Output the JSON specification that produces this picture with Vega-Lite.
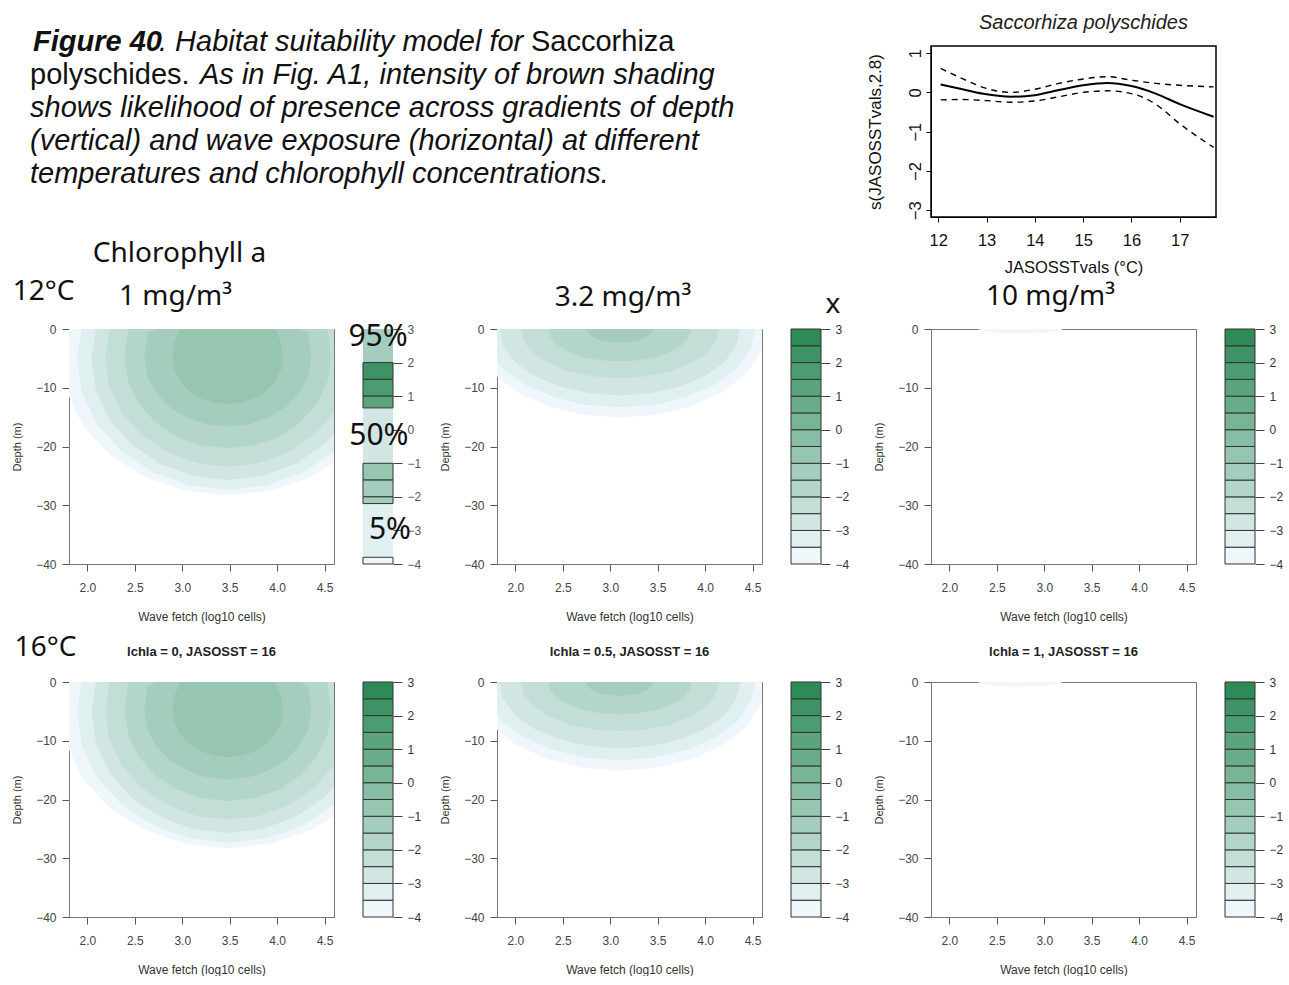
{
"$schema": "https://vega.github.io/schema/vega-lite/v6.json",
"background": "white",
"padding": {"left": 11, "top": 12, "right": 0, "bottom": 0},
"autosize": {"type": "pad"},
"config": {
  "font": "Liberation Sans",
  "view": {"stroke": "#777"},
  "axis": {"grid": false, "labelFont": "Liberation Sans", "titleFont": "Liberation Sans", "labelFlush": false, "labelOverlap": false},
  "title": {"font": "Liberation Sans"}
},
"datasets": {
  "c1": [
    {"l":0,"x":1.73,"lo":-5,"hi":-5},{"l":0,"x":1.79,"lo":-11,"hi":0},{"l":0,"x":1.96,"lo":-16.7,"hi":0},{"l":0,"x":2.24,"lo":-21.5,"hi":0},{"l":0,"x":2.61,"lo":-25.2,"hi":0},{"l":0,"x":3.03,"lo":-27.5,"hi":0},{"l":0,"x":3.48,"lo":-28.3,"hi":0},{"l":0,"x":3.93,"lo":-27.5,"hi":0},{"l":0,"x":4.36,"lo":-25.2,"hi":0},{"l":0,"x":4.72,"lo":-21.5,"hi":0},{"l":0,"x":5.0,"lo":-16.7,"hi":0},{"l":0,"x":5.17,"lo":-11,"hi":0},{"l":0,"x":5.23,"lo":-5,"hi":-5},
    {"l":1,"x":1.89,"lo":-5,"hi":-5},{"l":1,"x":1.94,"lo":-10.8,"hi":0},{"l":1,"x":2.1,"lo":-16.2,"hi":0},{"l":1,"x":2.36,"lo":-20.8,"hi":0},{"l":1,"x":2.69,"lo":-24.4,"hi":0},{"l":1,"x":3.07,"lo":-26.6,"hi":0},{"l":1,"x":3.48,"lo":-27.4,"hi":0},{"l":1,"x":3.89,"lo":-26.6,"hi":0},{"l":1,"x":4.28,"lo":-24.4,"hi":0},{"l":1,"x":4.6,"lo":-20.8,"hi":0},{"l":1,"x":4.86,"lo":-16.2,"hi":0},{"l":1,"x":5.02,"lo":-10.8,"hi":0},{"l":1,"x":5.07,"lo":-5,"hi":-5},
    {"l":2,"x":2.04,"lo":-5,"hi":-5},{"l":2,"x":2.09,"lo":-10.4,"hi":0},{"l":2,"x":2.23,"lo":-15.4,"hi":0},{"l":2,"x":2.46,"lo":-19.6,"hi":0},{"l":2,"x":2.76,"lo":-22.9,"hi":0},{"l":2,"x":3.11,"lo":-25,"hi":0},{"l":2,"x":3.48,"lo":-25.7,"hi":0},{"l":2,"x":3.85,"lo":-25,"hi":0},{"l":2,"x":4.2,"lo":-22.9,"hi":0},{"l":2,"x":4.5,"lo":-19.6,"hi":0},{"l":2,"x":4.73,"lo":-15.4,"hi":0},{"l":2,"x":4.87,"lo":-10.4,"hi":0},{"l":2,"x":4.92,"lo":-5,"hi":-5},
    {"l":3,"x":2.19,"lo":-5,"hi":-5},{"l":3,"x":2.23,"lo":-9.8,"hi":0},{"l":3,"x":2.36,"lo":-14.2,"hi":0},{"l":3,"x":2.57,"lo":-18,"hi":0},{"l":3,"x":2.84,"lo":-20.9,"hi":0},{"l":3,"x":3.15,"lo":-22.8,"hi":0},{"l":3,"x":3.48,"lo":-23.4,"hi":0},{"l":3,"x":3.81,"lo":-22.8,"hi":0},{"l":3,"x":4.13,"lo":-20.9,"hi":0},{"l":3,"x":4.39,"lo":-18,"hi":0},{"l":3,"x":4.6,"lo":-14.2,"hi":0},{"l":3,"x":4.73,"lo":-9.8,"hi":0},{"l":3,"x":4.77,"lo":-5,"hi":-5},
    {"l":4,"x":2.39,"lo":-5,"hi":-5},{"l":4,"x":2.43,"lo":-9,"hi":0},{"l":4,"x":2.54,"lo":-12.7,"hi":0},{"l":4,"x":2.71,"lo":-15.8,"hi":0},{"l":4,"x":2.94,"lo":-18.3,"hi":0},{"l":4,"x":3.2,"lo":-19.8,"hi":0},{"l":4,"x":3.48,"lo":-20.3,"hi":0},{"l":4,"x":3.76,"lo":-19.8,"hi":0},{"l":4,"x":4.03,"lo":-18.3,"hi":0},{"l":4,"x":4.25,"lo":-15.8,"hi":0},{"l":4,"x":4.42,"lo":-12.7,"hi":0},{"l":4,"x":4.53,"lo":-9,"hi":0},{"l":4,"x":4.57,"lo":-5,"hi":-5},
    {"l":5,"x":2.6,"lo":-5,"hi":-5},{"l":5,"x":2.63,"lo":-8,"hi":-0.8},{"l":5,"x":2.72,"lo":-10.8,"hi":0},{"l":5,"x":2.86,"lo":-13.2,"hi":0},{"l":5,"x":3.04,"lo":-15,"hi":0},{"l":5,"x":3.25,"lo":-16.2,"hi":0},{"l":5,"x":3.48,"lo":-16.6,"hi":0},{"l":5,"x":3.71,"lo":-16.2,"hi":0},{"l":5,"x":3.92,"lo":-15,"hi":0},{"l":5,"x":4.1,"lo":-13.2,"hi":0},{"l":5,"x":4.24,"lo":-10.8,"hi":0},{"l":5,"x":4.33,"lo":-8,"hi":-0.8},{"l":5,"x":4.36,"lo":-5,"hi":-5},
    {"l":6,"x":2.9,"lo":-5,"hi":-5},{"l":6,"x":2.92,"lo":-7,"hi":-2.2},{"l":6,"x":2.98,"lo":-8.9,"hi":0},{"l":6,"x":3.07,"lo":-10.5,"hi":0},{"l":6,"x":3.19,"lo":-11.8,"hi":0},{"l":6,"x":3.33,"lo":-12.5,"hi":0},{"l":6,"x":3.48,"lo":-12.8,"hi":0},{"l":6,"x":3.63,"lo":-12.5,"hi":0},{"l":6,"x":3.77,"lo":-11.8,"hi":0},{"l":6,"x":3.89,"lo":-10.5,"hi":0},{"l":6,"x":3.98,"lo":-8.9,"hi":0},{"l":6,"x":4.04,"lo":-7,"hi":-2.2},{"l":6,"x":4.06,"lo":-5,"hi":-5}
  ],
  "c2": [
    {"l":0,"x":1.56,"lo":0,"hi":0},{"l":0,"x":1.61,"lo":-3.9,"hi":0},{"l":0,"x":1.77,"lo":-7.6,"hi":0},{"l":0,"x":2.01,"lo":-10.7,"hi":0},{"l":0,"x":2.33,"lo":-13.1,"hi":0},{"l":0,"x":2.7,"lo":-14.6,"hi":0},{"l":0,"x":3.1,"lo":-15.1,"hi":0},{"l":0,"x":3.5,"lo":-14.6,"hi":0},{"l":0,"x":3.87,"lo":-13.1,"hi":0},{"l":0,"x":4.19,"lo":-10.7,"hi":0},{"l":0,"x":4.43,"lo":-7.6,"hi":0},{"l":0,"x":4.59,"lo":-3.9,"hi":0},{"l":0,"x":4.64,"lo":0,"hi":0},
    {"l":1,"x":1.67,"lo":0,"hi":0},{"l":1,"x":1.72,"lo":-3.4,"hi":0},{"l":1,"x":1.86,"lo":-6.7,"hi":0},{"l":1,"x":2.09,"lo":-9.4,"hi":0},{"l":1,"x":2.39,"lo":-11.5,"hi":0},{"l":1,"x":2.73,"lo":-12.9,"hi":0},{"l":1,"x":3.1,"lo":-13.3,"hi":0},{"l":1,"x":3.47,"lo":-12.9,"hi":0},{"l":1,"x":3.82,"lo":-11.5,"hi":0},{"l":1,"x":4.11,"lo":-9.4,"hi":0},{"l":1,"x":4.34,"lo":-6.7,"hi":0},{"l":1,"x":4.48,"lo":-3.4,"hi":0},{"l":1,"x":4.53,"lo":0,"hi":0},
    {"l":2,"x":1.83,"lo":0,"hi":0},{"l":2,"x":1.87,"lo":-2.9,"hi":0},{"l":2,"x":2.0,"lo":-5.7,"hi":0},{"l":2,"x":2.2,"lo":-8,"hi":0},{"l":2,"x":2.47,"lo":-9.8,"hi":0},{"l":2,"x":2.77,"lo":-10.9,"hi":0},{"l":2,"x":3.1,"lo":-11.3,"hi":0},{"l":2,"x":3.43,"lo":-10.9,"hi":0},{"l":2,"x":3.74,"lo":-9.8,"hi":0},{"l":2,"x":4.0,"lo":-8,"hi":0},{"l":2,"x":4.2,"lo":-5.7,"hi":0},{"l":2,"x":4.33,"lo":-2.9,"hi":0},{"l":2,"x":4.37,"lo":0,"hi":0},
    {"l":3,"x":2.06,"lo":0,"hi":0},{"l":3,"x":2.09,"lo":-2.2,"hi":0},{"l":3,"x":2.2,"lo":-4.2,"hi":0},{"l":3,"x":2.36,"lo":-5.9,"hi":0},{"l":3,"x":2.58,"lo":-7.3,"hi":0},{"l":3,"x":2.83,"lo":-8.1,"hi":0},{"l":3,"x":3.1,"lo":-8.4,"hi":0},{"l":3,"x":3.37,"lo":-8.1,"hi":0},{"l":3,"x":3.62,"lo":-7.3,"hi":0},{"l":3,"x":3.84,"lo":-5.9,"hi":0},{"l":3,"x":4.01,"lo":-4.2,"hi":0},{"l":3,"x":4.11,"lo":-2.2,"hi":0},{"l":3,"x":4.15,"lo":0,"hi":0},
    {"l":4,"x":2.35,"lo":0,"hi":0},{"l":4,"x":2.37,"lo":-1.4,"hi":0},{"l":4,"x":2.45,"lo":-2.8,"hi":0},{"l":4,"x":2.57,"lo":-3.9,"hi":0},{"l":4,"x":2.72,"lo":-4.8,"hi":0},{"l":4,"x":2.9,"lo":-5.3,"hi":0},{"l":4,"x":3.1,"lo":-5.5,"hi":0},{"l":4,"x":3.3,"lo":-5.3,"hi":0},{"l":4,"x":3.48,"lo":-4.8,"hi":0},{"l":4,"x":3.63,"lo":-3.9,"hi":0},{"l":4,"x":3.75,"lo":-2.8,"hi":0},{"l":4,"x":3.83,"lo":-1.4,"hi":0},{"l":4,"x":3.86,"lo":0,"hi":0},
    {"l":5,"x":2.74,"lo":0,"hi":0},{"l":5,"x":2.79,"lo":-1.2,"hi":0},{"l":5,"x":2.92,"lo":-2.1,"hi":0},{"l":5,"x":3.1,"lo":-2.4,"hi":0},{"l":5,"x":3.28,"lo":-2.1,"hi":0},{"l":5,"x":3.41,"lo":-1.2,"hi":0},{"l":5,"x":3.46,"lo":0,"hi":0}
  ],
  "c3": [
    {"l":0,"x":2.3,"lo":0,"hi":0},{"l":0,"x":2.36,"lo":-0.4,"hi":0},{"l":0,"x":2.53,"lo":-0.7,"hi":0},{"l":0,"x":2.75,"lo":-0.8,"hi":0},{"l":0,"x":2.98,"lo":-0.7,"hi":0},{"l":0,"x":3.14,"lo":-0.4,"hi":0},{"l":0,"x":3.2,"lo":0,"hi":0}
  ],
  "leg": [
    {"v0":-4,"v1":-3.5,"l":0},{"v0":-3.5,"v1":-3,"l":1},{"v0":-3,"v1":-2.5,"l":2},{"v0":-2.5,"v1":-2,"l":3},{"v0":-2,"v1":-1.5,"l":4},{"v0":-1.5,"v1":-1,"l":5},{"v0":-1,"v1":-0.5,"l":6},{"v0":-0.5,"v1":0,"l":7},{"v0":0,"v1":0.5,"l":8},{"v0":0.5,"v1":1,"l":9},{"v0":1,"v1":1.5,"l":10},{"v0":1.5,"v1":2,"l":11},{"v0":2,"v1":2.5,"l":12},{"v0":2.5,"v1":3,"l":13}
  ],
  "leg1": [
    {"v0":2.0,"v1":3.0,"l":5,"k":"p"},{"v0":-1.0,"v1":0.65,"l":2,"k":"p"},{"v0":-3.8,"v1":-2.2,"l":1,"k":"p"},
    {"v0":1.5,"v1":2.0,"l":12,"k":"d"},{"v0":1.0,"v1":1.5,"l":11,"k":"d"},{"v0":0.65,"v1":1.0,"l":10,"k":"d"},
    {"v0":-1.5,"v1":-1.0,"l":6,"k":"d"},{"v0":-2.0,"v1":-1.5,"l":5,"k":"d"},{"v0":-2.2,"v1":-2.0,"l":5,"k":"d"},
    {"v0":-4.0,"v1":-3.8,"l":0,"k":"d"}
  ],
  "gam": [
    {"t":12.05,"s":0.2,"series":"fit"},{"t":12.5,"s":0.08,"series":"fit"},{"t":13,"s":-0.05,"series":"fit"},{"t":13.5,"s":-0.11,"series":"fit"},{"t":14,"s":-0.07,"series":"fit"},{"t":14.5,"s":0.06,"series":"fit"},{"t":15,"s":0.18,"series":"fit"},{"t":15.5,"s":0.24,"series":"fit"},{"t":16,"s":0.16,"series":"fit"},{"t":16.5,"s":-0.03,"series":"fit"},{"t":17,"s":-0.3,"series":"fit"},{"t":17.7,"s":-0.62,"series":"fit"},
    {"t":12.05,"s":0.61,"series":"upper"},{"t":12.5,"s":0.35,"series":"upper"},{"t":13,"s":0.1,"series":"upper"},{"t":13.5,"s":0.0,"series":"upper"},{"t":14,"s":0.08,"series":"upper"},{"t":14.5,"s":0.23,"series":"upper"},{"t":15,"s":0.34,"series":"upper"},{"t":15.5,"s":0.4,"series":"upper"},{"t":16,"s":0.31,"series":"upper"},{"t":16.5,"s":0.23,"series":"upper"},{"t":17,"s":0.18,"series":"upper"},{"t":17.7,"s":0.14,"series":"upper"},
    {"t":12.05,"s":-0.19,"series":"lower"},{"t":12.5,"s":-0.18,"series":"lower"},{"t":13,"s":-0.21,"series":"lower"},{"t":13.5,"s":-0.25,"series":"lower"},{"t":14,"s":-0.22,"series":"lower"},{"t":14.5,"s":-0.11,"series":"lower"},{"t":15,"s":0.0,"series":"lower"},{"t":15.5,"s":0.04,"series":"lower"},{"t":16,"s":-0.03,"series":"lower"},{"t":16.5,"s":-0.3,"series":"lower"},{"t":17,"s":-0.8,"series":"lower"},{"t":17.7,"s":-1.4,"series":"lower"}
  ],
  "cap": [
    {"x":33,"y":51,"t":"Figure 40","s":"bi"},
    {"x":159,"y":51,"t":". Habitat suitability model for","s":"i"},
    {"x":531,"y":51,"t":"Saccorhiza","s":"r"},
    {"x":30,"y":84,"t":"polyschides.","s":"r"},
    {"x":200,"y":84,"t":"As in Fig. A1, intensity of brown shading","s":"i"},
    {"x":30,"y":117,"t":"shows likelihood of presence across gradients of depth","s":"i"},
    {"x":30,"y":150,"t":"(vertical) and wave exposure (horizontal) at different","s":"i"},
    {"x":30,"y":183,"t":"temperatures and chlorophyll concentrations.","s":"i"}
  ]
},
"columns": 11,
"align": "each",
"spacing": {"row": 112, "column": 0},
"bounds": "flush",
"concat": [
  {"width": 265, "height": 171, "view": {"stroke": null},
   "data": {"name": "cap"},
   "encoding": {
     "x": {"field": "x", "type": "quantitative", "scale": {"domain": [69, 334], "nice": false, "zero": false}, "axis": null},
     "y": {"field": "y", "type": "quantitative", "scale": {"domain": [46, 217], "nice": false, "zero": false, "reverse": true}, "axis": null},
     "text": {"field": "t"}
   },
   "layer": [
     {"transform": [{"filter": "datum.s === 'bi'"}], "mark": {"type": "text", "align": "left", "baseline": "alphabetic", "fontSize": 29, "fontStyle": "italic", "fontWeight": "bold", "color": "#111"}},
     {"transform": [{"filter": "datum.s === 'i'"}], "mark": {"type": "text", "align": "left", "baseline": "alphabetic", "fontSize": 29, "fontStyle": "italic", "fontWeight": "normal", "color": "#111"}},
     {"transform": [{"filter": "datum.s === 'r'"}], "mark": {"type": "text", "align": "left", "baseline": "alphabetic", "fontSize": 29, "fontStyle": "normal", "fontWeight": "normal", "color": "#111"}}
   ]
  },
  {"width": 1, "height": 1, "view": {"stroke": null}, "data": {"values": []}, "mark": "point"},
  {"width": 1, "height": 1, "view": {"stroke": null}, "data": {"values": []}, "mark": "point"},
  {"width": 1, "height": 1, "view": {"stroke": null}, "data": {"values": []}, "mark": "point"},
  {"width": 1, "height": 1, "view": {"stroke": null}, "data": {"values": []}, "mark": "point"},
  {"width": 1, "height": 1, "view": {"stroke": null}, "data": {"values": []}, "mark": "point"},
  {"width": 1, "height": 1, "view": {"stroke": null}, "data": {"values": []}, "mark": "point"},
  {"width": 1, "height": 1, "view": {"stroke": null}, "data": {"values": []}, "mark": "point"},
  {"width": 285, "height": 171,
   "view": {"stroke": "black", "strokeWidth": 1.5},
   "title": {"text": "Saccorhiza polyschides", "fontStyle": "italic", "fontWeight": "normal", "fontSize": 20, "color": "#222", "offset": 13, "dx": 10},
   "data": {"name": "gam"},
   "encoding": {
     "x": {"field": "t", "type": "quantitative", "scale": {"domain": [11.85, 17.75], "nice": false, "zero": false},
           "axis": {"title": "JASOSSTvals (°C)", "values": [12,13,14,15,16,17], "tickSize": 5, "tickColor": "black", "domainColor": "black", "labelColor": "#111", "labelFontSize": 16.5, "labelPadding": 10, "titleFontSize": 16.5, "titleFontWeight": "normal", "titleColor": "#111", "titlePadding": 11}},
     "y": {"field": "s", "type": "quantitative", "scale": {"domain": [-3.17, 1.18], "nice": false, "zero": false},
           "axis": {"title": "s(JASOSSTvals,2.8)", "values": [-3,-2,-1,0,1], "labelAngle": -90, "labelAlign": "center", "labelBaseline": "bottom", "tickSize": 5, "tickColor": "black", "domainColor": "black", "labelColor": "#111", "labelFontSize": 16.5, "labelPadding": 3, "titleFontSize": 17, "titleFontWeight": "normal", "titleColor": "#111", "titlePadding": 23}}
   },
   "layer": [
     {"transform": [{"filter": "datum.series === 'fit'"}], "mark": {"type": "line", "color": "black", "strokeWidth": 2, "interpolate": "monotone"}},
     {"transform": [{"filter": "datum.series !== 'fit'"}], "mark": {"type": "line", "color": "black", "strokeWidth": 1.4, "strokeDash": [6, 5], "interpolate": "monotone"}, "encoding": {"detail": {"field": "series"}}}
   ]
  },
  {"width": 1, "height": 1, "view": {"stroke": null}, "data": {"values": []}, "mark": "point"},
  {"width": 1, "height": 1, "view": {"stroke": null}, "data": {"values": []}, "mark": "point"},

  {"width": 265, "height": 235,
   "layer": [
     {"data": {"name": "c1"}, "mark": {"type": "area", "clip": true},
      "encoding": {
        "x": {"field": "x", "type": "quantitative", "scale": {"domain": [1.806, 4.6], "nice": false, "zero": false},
              "axis": {"title": "Wave fetch (log10 cells)", "values": [2,2.5,3,3.5,4,4.5], "format": ".1f", "tickSize": 7, "tickColor": "#555", "domainColor": "#777", "labelFontSize": 12, "labelColor": "#444", "labelPadding": 11, "titleFontSize": 12, "titleFontWeight": "normal", "titleColor": "#333", "titlePadding": 18}},
        "y": {"field": "lo", "type": "quantitative", "stack": null, "scale": {"domain": [-40, 0], "nice": false, "zero": false},
              "axis": {"title": "Depth (m)", "values": [0,-10,-20,-30,-40], "tickSize": 7, "tickColor": "#555", "domainColor": "#777", "labelFontSize": 12, "labelColor": "#444", "labelPadding": 6, "titleFontSize": 11, "titleFontWeight": "normal", "titleColor": "#333", "titlePadding": 13}},
        "y2": {"field": "hi"},
        "color": {"field": "l", "type": "ordinal", "legend": null, "scale": {"domain": [0,1,2,3,4,5,6,7,8,9,10,11,12,13], "range": ["#eff7fd","#e0eff0","#d1e6e3","#c2ded7","#b4d6ca","#a5cdbd","#96c5b0","#87bda4","#78b597","#69ac8a","#5ba47d","#4c9c71","#3d9364","#2e8b57"]}}
      }},
     {"data": {"values": [{"x": 1.537, "y": 6.3, "t": "12°C"}, {"x": 2.929, "y": 5.45, "t": "1 mg/m³"}, {"x": 2.971, "y": 12.8, "t": "Chlorophyll a"}, {"x": 1.558, "y": -54.3, "t": "16°C"}]},
      "mark": {"type": "text", "font": "Noto Sans", "fontSize": 28, "baseline": "middle", "color": "#111"},
      "encoding": {"x": {"field": "x", "type": "quantitative", "scale": {"domain": [1.806, 4.6], "nice": false, "zero": false}},
                   "y": {"field": "y", "type": "quantitative", "scale": {"domain": [-40, 0], "nice": false, "zero": false}},
                   "text": {"field": "t"}}}
   ]},
  {"width": 29, "height": 241, "view": {"stroke": null}, "data": {"values": []}, "mark": "point"},
  {"width": 30, "height": 235, "view": {"stroke": null},
   "data": {"name": "leg1"},
   "encoding": {
     "y": {"field": "v0", "type": "quantitative", "scale": {"domain": [-4, 3], "nice": false, "zero": false},
           "axis": {"orient": "right", "title": null, "values": [-4,-3,-2,-1,0,1,2,3], "domain": false, "tickSize": 9, "tickColor": "#444", "labelFontSize": 12, "labelColor": "#555", "labelPadding": 5}},
     "y2": {"field": "v1"},
     "color": {"field": "l", "type": "ordinal", "legend": null, "scale": {"domain": [0,1,2,3,4,5,6,7,8,9,10,11,12,13], "range": ["#eff7fd","#e0eff0","#d1e6e3","#c2ded7","#b4d6ca","#a5cdbd","#96c5b0","#87bda4","#78b597","#69ac8a","#5ba47d","#4c9c71","#3d9364","#2e8b57"]}}
   },
   "layer": [
     {"transform": [{"filter": "datum.k === 'p'"}], "mark": {"type": "rect"}},
     {"transform": [{"filter": "datum.k === 'd'"}], "mark": {"type": "rect", "stroke": "#333", "strokeWidth": 1}},
     {"data": {"values": [{"x": 0.5, "y": 2.76, "t": "95%"}, {"x": 0.53, "y": -0.19, "t": "50%"}, {"x": 0.9, "y": -2.99, "t": "5%"}]},
      "mark": {"type": "text", "font": "Noto Sans", "fontSize": 30, "baseline": "middle", "color": "#111"},
      "encoding": {"x": {"field": "x", "type": "quantitative", "scale": {"domain": [0, 1], "nice": false, "zero": false}, "axis": null},
                   "y": {"field": "y", "type": "quantitative"},
                   "y2": null, "color": null,
                   "text": {"field": "t"}}}
   ]},
  {"width": 104, "height": 235, "view": {"stroke": null}, "data": {"values": []}, "mark": "point"},
  {"width": 265, "height": 235,
   "layer": [
     {"data": {"name": "c2"}, "mark": {"type": "area", "clip": true},
      "encoding": {
        "x": {"field": "x", "type": "quantitative", "scale": {"domain": [1.806, 4.6], "nice": false, "zero": false},
              "axis": {"title": "Wave fetch (log10 cells)", "values": [2,2.5,3,3.5,4,4.5], "format": ".1f", "tickSize": 7, "tickColor": "#555", "domainColor": "#777", "labelFontSize": 12, "labelColor": "#444", "labelPadding": 11, "titleFontSize": 12, "titleFontWeight": "normal", "titleColor": "#333", "titlePadding": 18}},
        "y": {"field": "lo", "type": "quantitative", "stack": null, "scale": {"domain": [-40, 0], "nice": false, "zero": false},
              "axis": {"title": "Depth (m)", "values": [0,-10,-20,-30,-40], "tickSize": 7, "tickColor": "#555", "domainColor": "#777", "labelFontSize": 12, "labelColor": "#444", "labelPadding": 6, "titleFontSize": 11, "titleFontWeight": "normal", "titleColor": "#333", "titlePadding": 13}},
        "y2": {"field": "hi"},
        "color": {"field": "l", "type": "ordinal", "legend": null, "scale": {"domain": [0,1,2,3,4,5,6,7,8,9,10,11,12,13], "range": ["#eff7fd","#e0eff0","#d1e6e3","#c2ded7","#b4d6ca","#a5cdbd","#96c5b0","#87bda4","#78b597","#69ac8a","#5ba47d","#4c9c71","#3d9364","#2e8b57"]}}
      }},
     {"data": {"values": [{"x": 3.134, "y": 5.3, "t": "3.2 mg/m³"}, {"x": 5.348, "y": 4.1, "t": "x"}]},
      "mark": {"type": "text", "font": "Noto Sans", "fontSize": 28, "baseline": "middle", "color": "#111"},
      "encoding": {"x": {"field": "x", "type": "quantitative", "scale": {"domain": [1.806, 4.6], "nice": false, "zero": false}},
                   "y": {"field": "y", "type": "quantitative", "scale": {"domain": [-40, 0], "nice": false, "zero": false}},
                   "text": {"field": "t"}}}
   ]},
  {"width": 29, "height": 235, "view": {"stroke": null}, "data": {"values": []}, "mark": "point"},
  {"width": 30, "height": 235, "view": {"stroke": null},
   "data": {"name": "leg"},
   "mark": {"type": "rect", "stroke": "#333", "strokeWidth": 1},
   "encoding": {
     "y": {"field": "v0", "type": "quantitative", "scale": {"domain": [-4, 3], "nice": false, "zero": false},
           "axis": {"orient": "right", "title": null, "values": [-4,-3,-2,-1,0,1,2,3], "domain": false, "tickSize": 9, "tickColor": "#444", "labelFontSize": 12, "labelColor": "#333", "labelPadding": 5}},
     "y2": {"field": "v1"},
     "color": {"field": "l", "type": "ordinal", "legend": null, "scale": {"domain": [0,1,2,3,4,5,6,7,8,9,10,11,12,13], "range": ["#eff7fd","#e0eff0","#d1e6e3","#c2ded7","#b4d6ca","#a5cdbd","#96c5b0","#87bda4","#78b597","#69ac8a","#5ba47d","#4c9c71","#3d9364","#2e8b57"]}}
   }},
  {"width": 110, "height": 235, "view": {"stroke": null}, "data": {"values": []}, "mark": "point"},
  {"width": 265, "height": 235,
   "layer": [
     {"data": {"name": "c3"}, "mark": {"type": "area", "clip": true},
      "encoding": {
        "x": {"field": "x", "type": "quantitative", "scale": {"domain": [1.806, 4.6], "nice": false, "zero": false},
              "axis": {"title": "Wave fetch (log10 cells)", "values": [2,2.5,3,3.5,4,4.5], "format": ".1f", "tickSize": 7, "tickColor": "#555", "domainColor": "#777", "labelFontSize": 12, "labelColor": "#444", "labelPadding": 11, "titleFontSize": 12, "titleFontWeight": "normal", "titleColor": "#333", "titlePadding": 18}},
        "y": {"field": "lo", "type": "quantitative", "stack": null, "scale": {"domain": [-40, 0], "nice": false, "zero": false},
              "axis": {"title": "Depth (m)", "values": [0,-10,-20,-30,-40], "tickSize": 7, "tickColor": "#555", "domainColor": "#777", "labelFontSize": 12, "labelColor": "#444", "labelPadding": 6, "titleFontSize": 11, "titleFontWeight": "normal", "titleColor": "#333", "titlePadding": 13}},
        "y2": {"field": "hi"},
        "color": {"field": "l", "type": "ordinal", "legend": null, "scale": {"domain": [0,1,2,3,4,5,6,7,8,9,10,11,12,13], "range": ["#eff7fd","#e0eff0","#d1e6e3","#c2ded7","#b4d6ca","#a5cdbd","#96c5b0","#87bda4","#78b597","#69ac8a","#5ba47d","#4c9c71","#3d9364","#2e8b57"]}}
      }},
     {"data": {"values": [{"x": 3.066, "y": 5.45, "t": "10 mg/m³"}]},
      "mark": {"type": "text", "font": "Noto Sans", "fontSize": 28, "baseline": "middle", "color": "#111"},
      "encoding": {"x": {"field": "x", "type": "quantitative", "scale": {"domain": [1.806, 4.6], "nice": false, "zero": false}},
                   "y": {"field": "y", "type": "quantitative", "scale": {"domain": [-40, 0], "nice": false, "zero": false}},
                   "text": {"field": "t"}}}
   ]},
  {"width": 9, "height": 235, "view": {"stroke": null}, "data": {"values": []}, "mark": "point"},
  {"width": 30, "height": 235, "view": {"stroke": null},
   "data": {"name": "leg"},
   "mark": {"type": "rect", "stroke": "#333", "strokeWidth": 1},
   "encoding": {
     "y": {"field": "v0", "type": "quantitative", "scale": {"domain": [-4, 3], "nice": false, "zero": false},
           "axis": {"orient": "right", "title": null, "values": [-4,-3,-2,-1,0,1,2,3], "domain": false, "tickSize": 9, "tickColor": "#444", "labelFontSize": 12, "labelColor": "#333", "labelPadding": 5}},
     "y2": {"field": "v1"},
     "color": {"field": "l", "type": "ordinal", "legend": null, "scale": {"domain": [0,1,2,3,4,5,6,7,8,9,10,11,12,13], "range": ["#eff7fd","#e0eff0","#d1e6e3","#c2ded7","#b4d6ca","#a5cdbd","#96c5b0","#87bda4","#78b597","#69ac8a","#5ba47d","#4c9c71","#3d9364","#2e8b57"]}}
   }},

  {"width": 265, "height": 235,
   "title": {"text": "lchla = 0, JASOSST = 16", "fontSize": 13, "fontWeight": "bold", "color": "#222", "offset": 17},
   "data": {"name": "c1"}, "mark": {"type": "area", "clip": true},
   "encoding": {
     "x": {"field": "x", "type": "quantitative", "scale": {"domain": [1.806, 4.6], "nice": false, "zero": false},
           "axis": {"title": "Wave fetch (log10 cells)", "values": [2,2.5,3,3.5,4,4.5], "format": ".1f", "tickSize": 7, "tickColor": "#555", "domainColor": "#777", "labelFontSize": 12, "labelColor": "#444", "labelPadding": 11, "titleFontSize": 12, "titleFontWeight": "normal", "titleColor": "#333", "titlePadding": 18}},
     "y": {"field": "lo", "type": "quantitative", "stack": null, "scale": {"domain": [-40, 0], "nice": false, "zero": false},
           "axis": {"title": "Depth (m)", "values": [0,-10,-20,-30,-40], "tickSize": 7, "tickColor": "#555", "domainColor": "#777", "labelFontSize": 12, "labelColor": "#444", "labelPadding": 6, "titleFontSize": 11, "titleFontWeight": "normal", "titleColor": "#333", "titlePadding": 13}},
     "y2": {"field": "hi"},
     "color": {"field": "l", "type": "ordinal", "legend": null, "scale": {"domain": [0,1,2,3,4,5,6,7,8,9,10,11,12,13], "range": ["#eff7fd","#e0eff0","#d1e6e3","#c2ded7","#b4d6ca","#a5cdbd","#96c5b0","#87bda4","#78b597","#69ac8a","#5ba47d","#4c9c71","#3d9364","#2e8b57"]}}
   }},
  {"width": 29, "height": 235, "view": {"stroke": null}, "data": {"values": []}, "mark": "point"},
  {"width": 30, "height": 235, "view": {"stroke": null},
   "data": {"name": "leg"},
   "mark": {"type": "rect", "stroke": "#333", "strokeWidth": 1},
   "encoding": {
     "y": {"field": "v0", "type": "quantitative", "scale": {"domain": [-4, 3], "nice": false, "zero": false},
           "axis": {"orient": "right", "title": null, "values": [-4,-3,-2,-1,0,1,2,3], "domain": false, "tickSize": 9, "tickColor": "#444", "labelFontSize": 12, "labelColor": "#333", "labelPadding": 5}},
     "y2": {"field": "v1"},
     "color": {"field": "l", "type": "ordinal", "legend": null, "scale": {"domain": [0,1,2,3,4,5,6,7,8,9,10,11,12,13], "range": ["#eff7fd","#e0eff0","#d1e6e3","#c2ded7","#b4d6ca","#a5cdbd","#96c5b0","#87bda4","#78b597","#69ac8a","#5ba47d","#4c9c71","#3d9364","#2e8b57"]}}
   }},
  {"width": 104, "height": 235, "view": {"stroke": null}, "data": {"values": []}, "mark": "point"},
  {"width": 265, "height": 235,
   "title": {"text": "lchla = 0.5, JASOSST = 16", "fontSize": 13, "fontWeight": "bold", "color": "#222", "offset": 17},
   "data": {"name": "c2"}, "mark": {"type": "area", "clip": true},
   "encoding": {
     "x": {"field": "x", "type": "quantitative", "scale": {"domain": [1.806, 4.6], "nice": false, "zero": false},
           "axis": {"title": "Wave fetch (log10 cells)", "values": [2,2.5,3,3.5,4,4.5], "format": ".1f", "tickSize": 7, "tickColor": "#555", "domainColor": "#777", "labelFontSize": 12, "labelColor": "#444", "labelPadding": 11, "titleFontSize": 12, "titleFontWeight": "normal", "titleColor": "#333", "titlePadding": 18}},
     "y": {"field": "lo", "type": "quantitative", "stack": null, "scale": {"domain": [-40, 0], "nice": false, "zero": false},
           "axis": {"title": "Depth (m)", "values": [0,-10,-20,-30,-40], "tickSize": 7, "tickColor": "#555", "domainColor": "#777", "labelFontSize": 12, "labelColor": "#444", "labelPadding": 6, "titleFontSize": 11, "titleFontWeight": "normal", "titleColor": "#333", "titlePadding": 13}},
     "y2": {"field": "hi"},
     "color": {"field": "l", "type": "ordinal", "legend": null, "scale": {"domain": [0,1,2,3,4,5,6,7,8,9,10,11,12,13], "range": ["#eff7fd","#e0eff0","#d1e6e3","#c2ded7","#b4d6ca","#a5cdbd","#96c5b0","#87bda4","#78b597","#69ac8a","#5ba47d","#4c9c71","#3d9364","#2e8b57"]}}
   }},
  {"width": 29, "height": 235, "view": {"stroke": null}, "data": {"values": []}, "mark": "point"},
  {"width": 30, "height": 235, "view": {"stroke": null},
   "data": {"name": "leg"},
   "mark": {"type": "rect", "stroke": "#333", "strokeWidth": 1},
   "encoding": {
     "y": {"field": "v0", "type": "quantitative", "scale": {"domain": [-4, 3], "nice": false, "zero": false},
           "axis": {"orient": "right", "title": null, "values": [-4,-3,-2,-1,0,1,2,3], "domain": false, "tickSize": 9, "tickColor": "#444", "labelFontSize": 12, "labelColor": "#333", "labelPadding": 5}},
     "y2": {"field": "v1"},
     "color": {"field": "l", "type": "ordinal", "legend": null, "scale": {"domain": [0,1,2,3,4,5,6,7,8,9,10,11,12,13], "range": ["#eff7fd","#e0eff0","#d1e6e3","#c2ded7","#b4d6ca","#a5cdbd","#96c5b0","#87bda4","#78b597","#69ac8a","#5ba47d","#4c9c71","#3d9364","#2e8b57"]}}
   }},
  {"width": 110, "height": 235, "view": {"stroke": null}, "data": {"values": []}, "mark": "point"},
  {"width": 265, "height": 235,
   "title": {"text": "lchla = 1, JASOSST = 16", "fontSize": 13, "fontWeight": "bold", "color": "#222", "offset": 17},
   "data": {"name": "c3"}, "mark": {"type": "area", "clip": true},
   "encoding": {
     "x": {"field": "x", "type": "quantitative", "scale": {"domain": [1.806, 4.6], "nice": false, "zero": false},
           "axis": {"title": "Wave fetch (log10 cells)", "values": [2,2.5,3,3.5,4,4.5], "format": ".1f", "tickSize": 7, "tickColor": "#555", "domainColor": "#777", "labelFontSize": 12, "labelColor": "#444", "labelPadding": 11, "titleFontSize": 12, "titleFontWeight": "normal", "titleColor": "#333", "titlePadding": 18}},
     "y": {"field": "lo", "type": "quantitative", "stack": null, "scale": {"domain": [-40, 0], "nice": false, "zero": false},
           "axis": {"title": "Depth (m)", "values": [0,-10,-20,-30,-40], "tickSize": 7, "tickColor": "#555", "domainColor": "#777", "labelFontSize": 12, "labelColor": "#444", "labelPadding": 6, "titleFontSize": 11, "titleFontWeight": "normal", "titleColor": "#333", "titlePadding": 13}},
     "y2": {"field": "hi"},
     "color": {"field": "l", "type": "ordinal", "legend": null, "scale": {"domain": [0,1,2,3,4,5,6,7,8,9,10,11,12,13], "range": ["#eff7fd","#e0eff0","#d1e6e3","#c2ded7","#b4d6ca","#a5cdbd","#96c5b0","#87bda4","#78b597","#69ac8a","#5ba47d","#4c9c71","#3d9364","#2e8b57"]}}
   }},
  {"width": 9, "height": 235, "view": {"stroke": null}, "data": {"values": []}, "mark": "point"},
  {"width": 30, "height": 235, "view": {"stroke": null},
   "data": {"name": "leg"},
   "mark": {"type": "rect", "stroke": "#333", "strokeWidth": 1},
   "encoding": {
     "y": {"field": "v0", "type": "quantitative", "scale": {"domain": [-4, 3], "nice": false, "zero": false},
           "axis": {"orient": "right", "title": null, "values": [-4,-3,-2,-1,0,1,2,3], "domain": false, "tickSize": 9, "tickColor": "#444", "labelFontSize": 12, "labelColor": "#333", "labelPadding": 5}},
     "y2": {"field": "v1"},
     "color": {"field": "l", "type": "ordinal", "legend": null, "scale": {"domain": [0,1,2,3,4,5,6,7,8,9,10,11,12,13], "range": ["#eff7fd","#e0eff0","#d1e6e3","#c2ded7","#b4d6ca","#a5cdbd","#96c5b0","#87bda4","#78b597","#69ac8a","#5ba47d","#4c9c71","#3d9364","#2e8b57"]}}
   }}
]
}
